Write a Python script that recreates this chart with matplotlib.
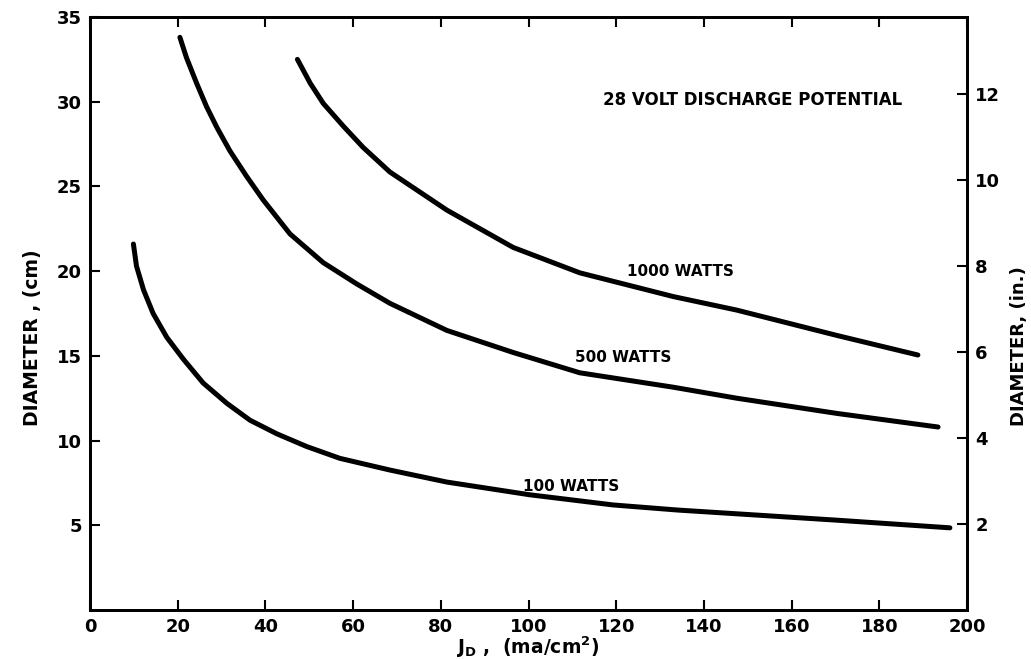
import numpy as np
import matplotlib
matplotlib.use("Agg")
import matplotlib.pyplot as plt

# values (J_D in ma/cm^2, diameter in cm)
j_100 = [9.9, 10.6, 12.2, 14.4, 17.5, 21.3, 25.8, 31.2, 36.5, 42.6, 49.4, 57.0, 68.4,
         81.4, 100.3, 119.3, 134.0, 170.4, 196.1]
d_100 = [21.6, 20.3, 18.9, 17.5, 16.1, 14.8, 13.4, 12.2, 11.2, 10.4, 9.65, 8.95, 8.26,
         7.55, 6.8, 6.2, 5.9, 5.3, 4.85]

j_500 = [20.5, 22.0, 24.3, 26.6, 28.9, 31.9, 35.7, 39.5, 45.6, 53.2, 60.8, 68.4,
         81.4, 96.5, 111.7, 133.0, 147.5, 170.4, 193.4]
d_500 = [33.8, 32.6, 31.1, 29.7, 28.5, 27.1, 25.6, 24.2, 22.2, 20.5, 19.25, 18.1,
         16.5, 15.2, 14.0, 13.15, 12.5, 11.6, 10.8]

j_1000 = [47.3, 50.2, 53.2, 57.8, 62.3, 68.4, 81.4, 96.5, 111.7, 133.0, 147.5, 170.4, 188.8]
d_1000 = [32.5, 31.1, 29.9, 28.55, 27.3, 25.85, 23.6, 21.4, 19.9, 18.5, 17.7, 16.2, 15.05]

xticks = np.arange(0, 201, 20)
yticks_cm = np.arange(5, 36, 5)
yticks_in = np.arange(2, 13, 2)

plt.rcParams["font.family"] = "DejaVu Sans"
plt.rcParams["font.weight"] = "bold"
plt.rcParams["mathtext.default"] = "bf"

fig = plt.figure(figsize=(10.31, 6.59), dpi=100)
ax = fig.add_axes([90 / 1031, 1 - 610 / 659, 877 / 1031, 593 / 659])

for j, d in [(j_100, d_100), (j_500, d_500), (j_1000, d_1000)]:
    ax.plot(j, d, color="black", lw=3.6, solid_capstyle="round", solid_joinstyle="round")

ax.set_xlim(0, 200)
ax.set_ylim(0, 35)
ax.set_xticks(xticks)
ax.set_yticks(yticks_cm)
ax.tick_params(direction="in", length=7, width=1.5, labelsize=13, top=True, pad=6)
for lab in ax.get_xticklabels() + ax.get_yticklabels():
    lab.set_fontweight("bold")
for s in ax.spines.values():
    s.set_linewidth(2)

ax2 = ax.twinx()
ax2.set_ylim(0, 35 / 2.54)
ax2.set_yticks(yticks_in)
ax2.tick_params(direction="in", length=7, width=1.5, labelsize=13, pad=6)
for lab in ax2.get_yticklabels():
    lab.set_fontweight("bold")
for s in ax2.spines.values():
    s.set_linewidth(2)

fig.text(528 / 1031, 1 - 647 / 659, r"J$_{D}$ ,  (ma/cm$^{2}$)", fontsize=13.5,
         fontweight="bold", ha="center", va="center")
ax.set_ylabel("DIAMETER , (cm)", fontsize=13.5, fontweight="bold")
ax.yaxis.set_label_coords(-0.055, 0.459)
ax2.set_ylabel("DIAMETER, (in.)", fontsize=13, fontweight="bold")
ax2.yaxis.set_label_coords(1.049, 0.445)

ax.text(117, 30.1, "28 VOLT DISCHARGE POTENTIAL", fontsize=12, fontweight="bold", va="center")
ax.text(122.5, 19.95, "1000 WATTS", fontsize=11, fontweight="bold", va="center")
ax.text(110.6, 14.9, "500 WATTS", fontsize=11, fontweight="bold", va="center")
ax.text(98.7, 7.3, "100 WATTS", fontsize=11, fontweight="bold", va="center")

fig.savefig("out.png", dpi=100)
